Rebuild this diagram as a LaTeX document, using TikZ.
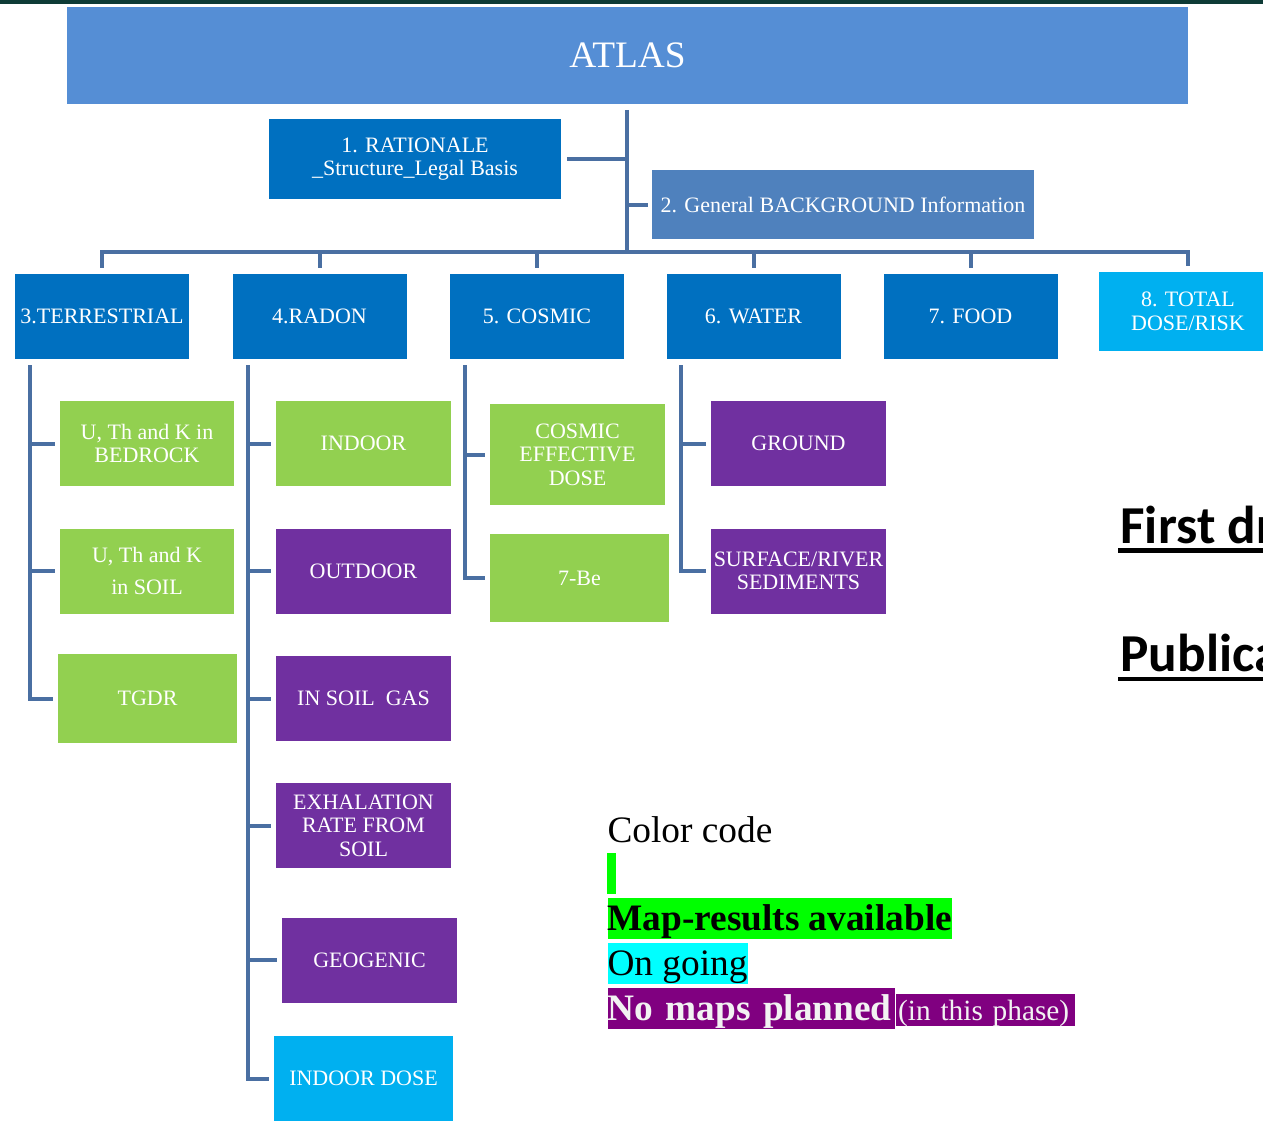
\documentclass[tikz,border=0pt]{standalone}
\usepackage{fontspec}
\setmainfont{Liberation Serif}
\newfontfamily\draftfont{Carlito}
\usetikzlibrary{positioning}

\definecolor{stripgreen}{HTML}{0E3B36}
\definecolor{atlasblue}{HTML}{558ED5}
\definecolor{headblue}{HTML}{0070C0}
\definecolor{infoblue}{HTML}{4F81BD}
\definecolor{skyblue}{HTML}{00B0F0}
\definecolor{leafgreen}{HTML}{92D050}
\definecolor{leafviolet}{HTML}{7030A0}
\definecolor{linkblue}{HTML}{4A6FA2}
\definecolor{codegreen}{HTML}{00FF00}
\definecolor{codecyan}{HTML}{00FFFF}
\definecolor{codeviolet}{HTML}{800080}

\tikzset{every picture/.style={line width=0.75pt}}
\tikzset{
  box/.style 2 args={text=white, align=center, inner sep=1pt,
    font=\fontsize{16.5}{17.6}\selectfont,
    minimum width=#1*0.75pt, minimum height=#2*0.75pt},
  headbox/.style={box={174}{85}, fill=headblue},
  greenbox/.style={box={175}{85}, fill=leafgreen},
  violetbox/.style={box={175}{85}, fill=leafviolet},
  link/.style={draw=linkblue, line width=3pt},
  codetext/.style={inner sep=0pt, text height=24.6pt, text depth=6.2pt,
    font=\fontsize{28}{30}\selectfont},
  draftline/.style={line width=3.4pt},
}

\begin{document}
\begin{tikzpicture}[x=0.75pt,y=0.75pt,yscale=-1,xscale=1]
	\path[use as bounding box] (0,0) rectangle (1263,1121);
	\clip (0,0) rectangle (1263,1121);
	
	%Shape: Rectangle [top strip]
	\fill[stripgreen] (0,0) rectangle (1263,4);
	
	% Top level
	\node[box={1121}{97}, fill=atlasblue, font=\fontsize{28}{30}\selectfont] (atlas) at (627.5,55.5) {ATLAS};
	\node[box={292}{80}, fill=headblue] (rationale) at (415,159) {1. RATIONALE\\\_Structure\_Legal Basis};
	\node[box={382}{69}, fill=infoblue] (background) at (843,204.5) {2. General BACKGROUND Information};
	
	% Second level
	\node[headbox] (terr) at (102,316.5) {3.TERRESTRIAL};
	\node[headbox] (radon) at (319.5,316.5) {4.RADON};
	\node[headbox] (cosmic) at (537,316.5) {5. COSMIC};
	\node[headbox] (water) at (753.5,316.5) {6. WATER};
	\node[headbox] (food) at (970.5,316.5) {7. FOOD};
	\node[box={178}{79}, fill=skyblue] (total) at (1188,311.5) {8. TOTAL\\DOSE/RISK};
	
	% Terrestrial
	\node[greenbox, minimum width=174*0.75pt] (bedrock) at (147,443.5) {U, Th and K in\\BEDROCK};
	\node[greenbox, minimum width=174*0.75pt] (soil) at (147,571) {U, Th and K\\[6pt]in SOIL};
	\node[greenbox, minimum width=179*0.75pt, minimum height=89*0.75pt] (tgdr) at (147.5,698.5) {TGDR};
	
	% Radon
	\node[greenbox] (indoor) at (363.5,443.5) {INDOOR};
	\node[violetbox] (outdoor) at (363.5,571) {OUTDOOR};
	\node[violetbox] (soilgas) at (363.5,698.5) {IN SOIL~ GAS};
	\node[violetbox] (exhal) at (363.5,825.5) {EXHALATION\\RATE FROM\\SOIL};
	\node[violetbox] (geogenic) at (369.5,960) {GEOGENIC};
	\node[box={179}{85}, fill=skyblue] (indoordose) at (363.5,1078.5) {INDOOR DOSE};
	
	% Cosmic
	\node[greenbox, minimum height=101*0.75pt] (cosdose) at (577.5,454.5) {COSMIC\\EFFECTIVE\\DOSE};
	\node[greenbox, minimum width=179*0.75pt, minimum height=88*0.75pt] (beryl) at (579.5,578) {7-Be};
	
	% Water
	\node[violetbox] (ground) at (798.5,443.5) {GROUND};
	\node[violetbox] (sediment) at (798.5,571) {SURFACE/RIVER\\SEDIMENTS};
	
	% Connectors
	\coordinate (hub) at (627,252);
	\coordinate (terrspine) at (30,365);
	\coordinate (radonspine) at (248,365);
	\coordinate (cosmicspine) at (465,365);
	\coordinate (waterspine) at (681,365);
	
	\draw[link, shorten <=4pt] (atlas.south -| hub) -- (hub);
	\draw[link, shorten <=4pt] (rationale.east) -- (rationale.east -| hub);
	\draw[link, shorten >=3pt] (background.west -| hub) -- (background.west);
	\foreach \n in {terr,radon,cosmic,water,food,total}
		\draw[link, shorten >=4pt] (hub) -| (\n.north);
	
	\foreach \n in {bedrock,soil,tgdr}
		\draw[link, shorten >=3.5pt] (terrspine) |- (\n.west);
	\foreach \n in {indoor,outdoor,soilgas,exhal,geogenic,indoordose}
		\draw[link, shorten >=3.5pt] (radonspine) |- (\n.west);
	\foreach \n in {cosdose,beryl}
		\draw[link, shorten >=3.5pt] (cosmicspine) |- (\n.west);
	\foreach \n in {ground,sediment}
		\draw[link, shorten >=3.5pt] (waterspine) |- (\n.west);
	
	% Draft notes
	\node[anchor=base west, inner sep=0pt, font=\draftfont\bfseries\fontsize{40}{44}\selectfont] (draft) at (1120,543) {First dr};
	\draw[draftline] ([shift={(-2,7.5)}]draft.base west) -- ++(200,0);
	\node[anchor=base west, inner sep=0pt, font=\draftfont\bfseries\fontsize{40}{44}\selectfont] (publica) at (1120,671) {Publica};
	\draw[draftline] ([shift={(-2,8)}]publica.base west) -- ++(200,0);
	
	% Color code
	\node[anchor=base west, inner sep=0pt, font=\fontsize{28}{30}\selectfont] (colorcode) at (607,842) {Color code};
	\fill[codegreen] (607,853) rectangle (616,894);
	\node[codetext, fill=codegreen, anchor=north west] (mapres) at (607,897) {\textbf{Map-results available}};
	\node[codetext, fill=codecyan, anchor=north west] (ongoing) at (607,942) {On going};
	\node[codetext, fill=codeviolet, text=white!95!black, anchor=north west, text width=287*0.75pt] (nomaps) at (607,987) {\textbf{No maps planned}};
	\node[inner sep=0pt, fill=codeviolet, text=white!95!black, anchor=base west, text height=19.8pt, text depth=4.4pt, text width=179*0.75pt, font=\fontsize{22}{24}\selectfont] (phase) at (nomaps.base east) {\hspace{2pt}(in this phase)};
	
\end{tikzpicture}
\end{document}
